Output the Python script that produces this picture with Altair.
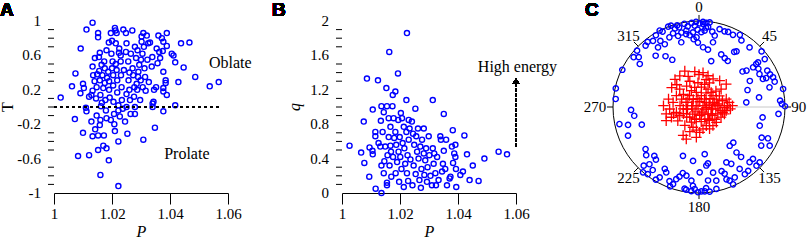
import altair as alt
import pandas as pd

# ---------------- Panel A: T vs P ----------------
P_A = [1.0023,1.0074,1.0062,1.0072,1.0083,1.0092,1.0091,1.0100,1.0103,1.0100,1.0112,1.0110,1.0112,1.0121,1.0121,
       1.0129,1.0133,1.0133,1.0133,1.0141,1.0135,1.0129,1.0133,1.0142,1.0145,1.0147,1.0149,1.0152,1.0152,1.0152,
       1.0152,1.0155,1.0158,1.0160,1.0156,1.0158,1.0160,1.0162,1.0160,1.0158,1.0164,1.0167,1.0170,1.0170,1.0172,
       1.0173,1.0175,1.0175,1.0177,1.0179,1.0181,1.0181,1.0181,1.0183,1.0187,1.0189,1.0189,1.0190,1.0192,1.0196,
       1.0198,1.0200,1.0202,1.0204,1.0204,1.0205,1.0207,1.0208,1.0210,1.0212,1.0216,1.0213,1.0213,1.0216,1.0218,
       1.0218,1.0222,1.0222,1.0222,1.0222,1.0224,1.0225,1.0227,1.0230,1.0231,1.0233,1.0234,1.0237,1.0239,1.0241,
       1.0245,1.0248,1.0248,1.0250,1.0250,1.0253,1.0256,1.0257,1.0260,1.0262,1.0264,1.0265,1.0270,1.0271,1.0273,
       1.0276,1.0277,1.0279,1.0279,1.0279,1.0283,1.0285,1.0287,1.0288,1.0291,1.0294,1.0297,1.0299,1.0302,1.0302,
       1.0305,1.0306,1.0308,1.0308,1.0310,1.0312,1.0314,1.0316,1.0320,1.0322,1.0325,1.0327,1.0331,1.0337,1.0339,
       1.0340,1.0340,1.0343,1.0345,1.0348,1.0352,1.0354,1.0357,1.0360,1.0363,1.0366,1.0372,1.0375,1.0377,1.0377,
       1.0377,1.0377,1.0377,1.0385,1.0385,1.0389,1.0389,1.0389,1.0406,1.0412,1.0418,1.0418,1.0429,1.0438,1.0447,
       1.0467,1.0487,1.0537,1.0568,1.0147,1.0196,1.0210,1.0140,1.0190,1.0230,1.0260,1.0290,1.0250,1.0200,1.0165,1.0300]
T_A = [0.11,0.39,0.24,-0.14,-0.57,0.68,0.16,0.27,0.22,-0.30,0.90,-0.01,-0.05,-0.56,0.12,
       0.14,0.19,0.98,0.47,0.57,0.37,-0.17,-0.34,-0.26,0.10,0.23,0.38,0.86,0.81,-0.50,
       -0.33,0.58,0.63,-0.79,0.42,0.31,0.14,0.01,-0.15,-0.21,0.49,0.37,0.22,-0.45,-0.33,
       0.53,0.45,0.28,0.08,-0.04,-0.48,-0.13,0.66,0.34,0.41,0.75,-0.62,0.20,0.11,0.86,
       0.62,0.77,0.53,0.37,0.25,0.06,-0.08,-0.20,0.92,0.89,0.86,0.74,0.50,0.43,0.31,
       0.17,0.02,-0.04,-0.40,-0.92,0.63,0.68,-0.11,0.53,0.37,0.23,0.08,-0.02,0.90,0.43,
       -0.17,0.86,0.64,0.74,0.00,-0.31,0.53,0.31,0.20,0.08,-0.08,0.62,0.89,0.45,0.37,
       0.12,0.23,0.70,0.00,-0.08,0.57,0.27,0.20,0.66,0.41,0.49,0.08,0.31,0.82,0.76,
       0.62,0.23,0.86,-0.38,0.70,0.45,0.35,0.19,0.83,0.55,0.74,0.29,0.75,0.47,0.58,
       0.04,0.00,0.06,0.20,-0.24,0.23,0.68,0.51,0.83,0.64,0.57,0.80,0.65,0.76,0.41,
       0.22,0.18,-0.05,0.31,0.28,0.86,0.71,0.14,0.62,0.60,0.52,0.02,0.29,0.74,0.46,
       0.75,0.35,0.24,0.29,-0.10,-0.15,-0.28,0.30,0.30,0.60,0.40,0.35,0.15,0.45,0.05,0.55]

# ---------------- Panel B: q vs P ----------------
P_B = [1.0026,1.0066,1.0077,1.0075,1.0086,1.0094,1.0095,1.0105,1.0106,1.0106,1.0115,1.0115,1.0116,1.0124,1.0126,
       1.0132,1.0134,1.0136,1.0136,1.0136,1.0140,1.0144,1.0144,1.0146,1.0149,1.0153,1.0155,1.0155,1.0155,1.0157,
       1.0161,1.0163,1.0161,1.0164,1.0167,1.0167,1.0169,1.0170,1.0174,1.0175,1.0176,1.0178,1.0180,1.0184,1.0184,
       1.0185,1.0187,1.0190,1.0193,1.0194,1.0195,1.0197,1.0199,1.0201,1.0203,1.0205,1.0207,1.0209,1.0213,1.0213,
       1.0215,1.0218,1.0222,1.0224,1.0222,1.0224,1.0226,1.0228,1.0230,1.0230,1.0233,1.0236,1.0241,1.0243,1.0245,
       1.0247,1.0249,1.0253,1.0254,1.0256,1.0259,1.0262,1.0264,1.0267,1.0270,1.0272,1.0274,1.0276,1.0282,1.0282,
       1.0284,1.0287,1.0290,1.0293,1.0295,1.0299,1.0301,1.0305,1.0310,1.0313,1.0313,1.0316,1.0318,1.0322,1.0324,
       1.0328,1.0333,1.0339,1.0341,1.0345,1.0348,1.0351,1.0351,1.0356,1.0359,1.0362,1.0371,1.0374,1.0379,1.0382,
       1.0383,1.0387,1.0391,1.0391,1.0393,1.0394,1.0408,1.0417,1.0422,1.0431,1.0440,1.0451,1.0471,1.0491,1.0540,
       1.0569]
q_B = [0.55,0.47,0.35,0.83,1.33,0.19,0.53,0.49,0.45,0.97,0.71,0.66,0.05,1.31,0.58,
       0.54,0.84,1.01,0.32,0.00,0.71,0.94,0.23,0.37,0.54,1.22,1.01,0.09,0.12,0.44,
       0.65,1.64,0.87,0.32,0.77,0.55,0.48,0.19,1.01,1.14,0.42,0.87,0.64,1.18,0.71,
       0.23,0.56,0.36,1.39,0.85,0.48,0.13,0.65,0.42,0.93,0.28,0.87,0.58,0.07,0.77,
       0.52,0.34,1.08,1.86,0.71,0.23,0.44,0.14,0.85,0.62,0.75,0.39,0.83,0.09,0.69,
       0.32,0.56,0.98,0.22,0.66,0.48,0.75,0.40,0.15,0.54,0.06,0.28,0.62,0.75,0.46,
       0.21,0.38,0.52,0.13,0.30,0.66,0.44,0.20,0.09,1.08,0.52,0.34,0.46,0.23,0.09,
       0.42,0.15,0.66,0.62,0.25,0.34,0.92,0.49,0.28,0.62,0.09,0.17,0.19,0.54,0.73,
       0.35,0.46,0.56,0.42,0.28,0.07,0.21,0.25,0.67,0.45,0.15,0.32,0.14,0.40,0.48,
       0.45]

# ---------------- Panel C: stereonet (trend / plunge, degrees) ----------------
blue_az = [339,341,343,346,350,352,355,357,358,0.5,2.7,5,7.2,6.5,4.2,1.8,359,355.4,352.6,350.6,346.7,343.6,340.6,337,
           334.2,332.8,329,329.7,331.4,325.5,325.2,321.7,319,312.3,307.3,309.6,306,319.8,326.6,330.5,344.7,355.5,359,
           3.9,8.9,14.9,12.2,12.4,14.8,18.7,21.2,25.2,29.5,32.5,34,32.6,22.9,27.8,32,40.3,48.4,
           50.8,52.5,53.7,53.1,57.2,61.4,66.3,66.7,65.4,68.1,71.5,74.4,52.9,53.9,62,62.9,70.7,80.9,84.4,77.9,85.5,
           87.9,89.5,95,99.3,107.1,116,114.4,118.7,121.8,
           132.4,135.6,133.9,137.5,142.4,145.7,146.7,153.1,156.2,157.4,159.2,159,160.6,166.8,167.9,141.6,136.1,140.5,
           139.9,153.7,150.4,172.8,176.1,178.4,180.7,183,185.2,188.8,184.4,173,172.9,173.1,171,179.4,186.3,198.2,
           185.9,190.4,193.8,195.7,197.5,198.6,201.7,206.6,209,209.2,210.7,217.3,220.6,216.3,220.9,223.3,219.3,
           222.4,227.6,231.8,248,255.8,257.9,252.8,262.3,267.5,275.5,282.6,295.9,
           5,350,358,10,345,3,190,175,168,200]
blue_pl = [0,0,5,5,2,6,2,6,1,3,1,2,1,7,12,14,11,14,17,11,12,15,10,13,
           3,0,3,12,18,17,7,4,6,3,5,10,16,23,30,37,23,22,26,
           31,33,44,24,16,7,8,7,8,4,9,23,25,34,36,37,10,3,
           35,31,23,18,19,21,20,16,10,8,8,16,15,6,11,34,40,30,44,0,6,
           4,0,8,26,27,20,13,7,16,
           5,5,14,14,7,6,15,9,2,8,11,18,22,13,23,42,42,32,
           25,29,25,1,2,2,1,5,2,3,9,15,32,44,34,25,37,40,
           15,20,22,17,13,6,8,16,19,7,2,2,0,10,13,7,22,
           24,18,22,12,16,6,31,25,22,3,1,1,
           8,15,20,12,2,4,4,6,3,2]

red_az = [319,315,328.3,338.4,340.6,340.4,353.2,0,6.7,14.6,23.4,26.6,38.1,50,357.6,329.3,312.9,305.4,309,
          272.2,258.2,284.5,266.1,249.6,247.3,280.1,296.6,256.8,236.9,274,294.4,246.5,217.6,290.2,259.8,222.2,
          320.4,206.6,323,283,219,349.7,192.5,352.6,207,8.4,175.5,11.6,171.4,71.2,142.8,35.4,154.8,26.4,92.7,
          127.7,53.1,74.2,142,99.1,51,121.8,73.5,96.5,65.3,110.1,86.2,61.2,99.4,75.1,90.8,73.7,87.3,81.4,93.5,
          87.7,105.2,114.8,158.6,154.2,169.6,186.4,196.5,209.2,201.6,200.3,185,178.4,143.1,131.4,199.7,230.8,
          263,245.8,255,306,334.9,347.7,6.7,13.9,26.7,39.9,46.8,51.2,16.1,
          297,109,57.6,161.6,220.8,84.4,119.5,81,280,261,143,127.6,102.5,97.7]
red_pl = [55,60,55,53,59,64,56,59,57,63,65,60,58,56,67,67,65,58,71,
          56,58,60,62,62,56,65,66,68,66,72,72,74,68,77,79,77,
          76,74,81,84,84,76,78,82,88,85,82,79,76,86,84,81,77,75,83,
          79,77,80,74,78,73,75,75,74,72,71,71,68,69,67,66,63,63,61,60,
          58,65,67,71,67,69,68,70,59,57,65,61,66,68,68,78,75,
          75,70,65,77,73,71,71,68,71,72,68,63,59,
          87,84,82,83,81,77,77,72,83,78,76,71,67,64]

dir_ticks = [0, 45, 90, 135, 180, 225, 270, 315]

# tick values (axis decoration)
x_ticks = [1.0, 1.005, 1.01, 1.015, 1.02, 1.025, 1.03, 1.035, 1.04, 1.045, 1.05, 1.055, 1.06]
yA_major = [1.0, 0.6, 0.2, -0.2, -0.6, -1.0]
yA_labels = ["1", "0.6", "0.2", "-0.2", "-0.6", "-1"]
yA_minor = [0.9, 0.8, 0.7, 0.5, 0.4, 0.3, 0.1, 0.0, -0.1, -0.3, -0.4, -0.5, -0.7, -0.8, -0.9]
yB_major = [0.0, 0.4, 0.8, 1.2, 1.6, 2.0]
yB_labels = ["0", "0.4", "0.8", "1.2", "1.6", "2"]
yB_minor = [0.1, 0.2, 0.3, 0.5, 0.6, 0.7, 0.9, 1.0, 1.1, 1.3, 1.4, 1.5, 1.7, 1.8, 1.9]

# ---------------- common styling ----------------
SERIF = "Liberation Serif"
BLUE = "#0000ff"
RED = "#ff0000"

dfA = pd.DataFrame({"P": P_A, "T": T_A})
dfB = pd.DataFrame({"P": P_B, "q": q_B})
dfBlue = pd.DataFrame({"az": blue_az, "pl": blue_pl})
dfRed = pd.DataFrame({"az": red_az, "pl": red_pl})
dfTicks = pd.DataFrame({"az": dir_ticks, "lab": [str(v) for v in dir_ticks]})

x_label_expr = ("abs(datum.value*50 - round(datum.value*50)) < 0.001 ? "
                "(datum.value == 1 ? '1' : format(datum.value, '.2f')) : ''")
x_tick_size = {"condition": {"test": "abs(datum.value*100 - round(datum.value*100)) < 0.01",
                             "value": 11}, "value": 5}

W, H = 174, 172
xScale = alt.Scale(domain=[1, 1.06], nice=False, zero=False)


def x_axis():
    return alt.Axis(values=x_ticks, labelExpr=x_label_expr, tickSize=x_tick_size,
                    title="P", titleFontStyle="italic", titleFont=SERIF, titleFontSize=16,
                    titleFontWeight="normal", titlePadding=2, labelPadding=2, grid=False,
                    labelFlush=False, labelOverlap=False)


def y_axis(values):
    return alt.Axis(values=values, labels=False, tickSize=12, title=None, grid=False)


def minor_ticks(values, field, scale):
    return alt.Chart(pd.DataFrame({field: values})).mark_rule(color="black", strokeWidth=1).encode(
        y=alt.Y(field + ":Q", scale=scale, axis=None), x=alt.value(-6), x2=alt.value(0))


def y_labels(values, labels, field, scale):
    return alt.Chart(pd.DataFrame({field: values, "lab": labels})).mark_text(
        font=SERIF, fontSize=15, color="black", align="right", baseline="middle").encode(
        y=alt.Y(field + ":Q", scale=scale, axis=None), x=alt.value(-13), text="lab:N")


def y_title(text, italic, xpos):
    return alt.Chart(pd.DataFrame({"t": [text]})).mark_text(
        font=SERIF, fontSize=16, color="black", angle=270, align="center", baseline="middle",
        fontStyle="italic" if italic else "normal").encode(
        x=alt.value(xpos), y=alt.value(H / 2), text="t:N")


PT_SIZE = 26

# ---- Panel A
yAScale = alt.Scale(domain=[-1, 1], nice=False, zero=False)
pointsA = alt.Chart(dfA).mark_point(shape="circle", filled=False, color=BLUE, size=PT_SIZE,
                                    strokeWidth=1.4, opacity=1).encode(
    x=alt.X("P:Q", scale=xScale, axis=x_axis()),
    y=alt.Y("T:Q", scale=yAScale, axis=y_axis(yA_major)),
)
zeroLine = alt.Chart(dfA).mark_rule(color="black", strokeDash=[3, 3], strokeWidth=1).encode(
    x=alt.datum(1.0), x2=alt.datum(1.0573), y=alt.datum(0))
txtA = alt.Chart(pd.DataFrame({"P": [1.0608, 1.0458], "T": [0.51, -0.55],
                               "t": ["Oblate", "Prolate"]})).mark_text(
    font=SERIF, fontSize=16, color="black", align="center", baseline="middle").encode(
    x="P:Q", y="T:Q", text="t:N")
labA = alt.Chart(dfA).mark_text(text="A", font="Liberation Sans", fontWeight="bold", fontSize=19,
                                align="left", baseline="top", color="black").encode(
    x=alt.value(-54), y=alt.value(-20))
panelA = alt.layer(pointsA, minor_ticks(yA_minor, "T", yAScale),
                   y_labels(yA_major, yA_labels, "T", yAScale), y_title("T", False, -46),
                   zeroLine, txtA, labA).properties(width=W, height=H)

# ---- Panel B
yBScale = alt.Scale(domain=[0, 2], nice=False, zero=False)
pointsB = alt.Chart(dfB).mark_point(shape="circle", filled=False, color=BLUE, size=PT_SIZE,
                                    strokeWidth=1.4, opacity=1).encode(
    x=alt.X("P:Q", scale=xScale, axis=x_axis()),
    y=alt.Y("q:Q", scale=yBScale, axis=y_axis(yB_major)),
)
arrowLine = alt.Chart(dfB).mark_rule(color="black", strokeDash=[3, 2], strokeWidth=1).encode(
    x=alt.datum(1.06), y=alt.datum(0.54), y2=alt.datum(1.27))
arrowHead = alt.Chart(dfB).mark_point(shape="triangle-up", filled=True, color="black", size=45,
                                      opacity=1).encode(x=alt.datum(1.06), y=alt.datum(1.30))
txtB = alt.Chart(pd.DataFrame({"P": [1.0605], "q": [1.46], "t": ["High energy"]})).mark_text(
    font=SERIF, fontSize=16, color="black", align="center", baseline="middle").encode(
    x="P:Q", y="q:Q", text="t:N")
labB = alt.Chart(dfB).mark_text(text="B", font="Liberation Sans", fontWeight="bold", fontSize=19,
                                align="left", baseline="top", color="black").encode(
    x=alt.value(-70), y=alt.value(-20))
panelB = alt.layer(pointsB, minor_ticks(yB_minor, "q", yBScale),
                   y_labels(yB_major, yB_labels, "q", yBScale), y_title("q", True, -47),
                   arrowLine, arrowHead, txtB, labB).properties(width=W, height=H)

# ---- Panel C (equal-area projection, 86 px per unit radius)
CW = 172
sx = alt.Scale(domain=[-69 / 86, 103 / 86], nice=False, zero=False)
sy = alt.Scale(domain=[-1, 1], nice=False, zero=False)
proj = "sqrt(2) * sin((90 - datum.pl) / 2 * PI / 180)"


def projected(df):
    return alt.Chart(df).transform_calculate(r=proj).transform_calculate(
        ex="datum.r * sin(datum.az * PI / 180)", ny="datum.r * cos(datum.az * PI / 180)")


outline = alt.Chart(pd.DataFrame({"cx": [0], "cy": [0]})).mark_point(
    shape="circle", filled=False, color="black", size=CW * CW, strokeWidth=1, opacity=1).encode(
    x=alt.X("cx:Q", scale=sx, axis=None), y=alt.Y("cy:Q", scale=sy, axis=None))
greyLine = alt.Chart(pd.DataFrame({"a": [0.42], "b": [1.0], "c": [0.0]})).mark_rule(
    color="#c8c8c8", strokeWidth=1).encode(
    x=alt.X("a:Q", scale=sx, axis=None), x2="b:Q", y=alt.Y("c:Q", scale=sy, axis=None))
tickMarks = alt.Chart(dfTicks).transform_calculate(
    x1="sin(datum.az*PI/180)", y1="cos(datum.az*PI/180)",
    x2="1.07*sin(datum.az*PI/180)", y2="1.07*cos(datum.az*PI/180)").mark_rule(
    color="black", strokeWidth=1).encode(
    x=alt.X("x1:Q", scale=sx, axis=None), y=alt.Y("y1:Q", scale=sy, axis=None),
    x2="x2:Q", y2="y2:Q")
tickLabels = alt.Chart(dfTicks).transform_calculate(
    lx="(datum.az == 270 ? 1.21 : 1.16)*sin(datum.az*PI/180)",
    ly="1.16*cos(datum.az*PI/180)").mark_text(
    font=SERIF, fontSize=15, color="black", align="center", baseline="middle").encode(
    x=alt.X("lx:Q", scale=sx, axis=None), y=alt.Y("ly:Q", scale=sy, axis=None), text="lab:N")
bluePts = projected(dfBlue).mark_point(shape="circle", filled=False, color=BLUE, size=28,
                                       strokeWidth=1.4, opacity=1).encode(
    x=alt.X("ex:Q", scale=sx, axis=None), y=alt.Y("ny:Q", scale=sy, axis=None))
redPts = projected(dfRed).mark_point(shape="M-1,0L1,0M0,-1L0,1", filled=False, color=RED,
                                     size=110, strokeWidth=1.3, opacity=1).encode(
    x=alt.X("ex:Q", scale=sx, axis=None), y=alt.Y("ny:Q", scale=sy, axis=None))
labC = alt.Chart(dfBlue).mark_text(text="C", font="Liberation Sans", fontWeight="bold", fontSize=19,
                                   align="left", baseline="top", color="black").encode(
    x=alt.value(-45), y=alt.value(-20))
panelC = alt.layer(outline, greyLine, tickMarks, tickLabels, bluePts, redPts, labC).properties(
    width=CW, height=CW)

chart = alt.hconcat(panelA, panelB, panelC, spacing=114, bounds="flush").properties(
    padding=0).configure_view(stroke=None).configure_axis(
    domainColor="black", tickColor="black", labelColor="black", titleColor="black",
    labelFont=SERIF, labelFontSize=15, domainWidth=1, tickWidth=1)

chart.save("out.html", embed_options={"renderer": "svg", "actions": False})
